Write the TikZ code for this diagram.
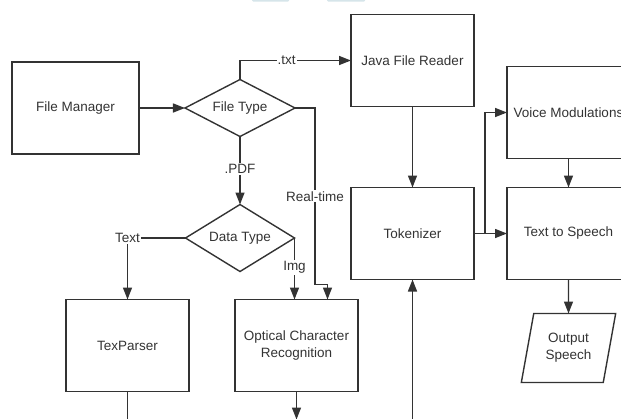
\documentclass[tikz,border=0pt]{standalone}
\usepackage{fontspec}
\setmainfont{Liberation Sans}
\usepackage{xcolor}
\usepackage{tikz}
\usetikzlibrary{shapes.geometric, positioning, arrows.meta}
\definecolor{ink}{RGB}{51,51,51}
\definecolor{tab}{RGB}{214,229,234}
\tikzstyle{process} = [rectangle, minimum width=123pt, minimum height=92pt, text centered, align=center, draw=ink, line width=1.4pt, outer sep=0pt]
\tikzstyle{decision} = [diamond, aspect=2, minimum width=110pt, minimum height=57pt, inner sep=0pt, text centered, draw=ink, line width=1.4pt, outer sep=0pt]
\tikzstyle{io} = [trapezium, trapezium left angle=75, trapezium right angle=105, trapezium stretches=true, minimum width=95pt, minimum height=69pt, inner sep=2pt, text centered, align=center, draw=ink, line width=1.4pt, outer sep=0pt]
\tikzstyle{arrow} = [draw=ink, line width=1.4pt, -{Triangle[length=12pt, width=9pt]}]
\tikzstyle{line} = [draw=ink, line width=1.4pt]
\tikzstyle{lbl} = [fill=white, inner sep=1pt, text=ink]

\begin{document}
\begin{tikzpicture}[x=1pt, y=-1pt, text=ink, font=\fontsize{13.5}{17}\selectfont]
		\useasboundingbox (0,0) rectangle (621,418);
		\clip (0,0) rectangle (621,418);
		\fill[tab, rounded corners=1pt] (252,-3) rectangle (289,1.5);
		\fill[tab, rounded corners=1pt] (327,-3) rectangle (365,1.5);
		\node (File Manager)[process, minimum width=127pt] at (75.5,108) {File Manager};
		\node (File Type)[decision, right = 46pt of File Manager]{File Type};
		\node (Java)[process, right = 56pt of File Type, yshift=47.5pt]{Java File Reader};
		\node (Tokenizer)[process, below = 81pt of Java]{Tokenizer};
		\node (Text to Speech)[process, right = 33pt of Tokenizer]{Text to Speech};
		\node (Voice)[process, above = 29pt of Text to Speech]{Voice Modulations};
		\node (Output)[io, below = 34pt of Text to Speech]{Output\\Speech};
		\node (Data Type)[decision, minimum width=109pt, minimum height=67pt, below = 68pt of File Type]{Data Type};
		\node (TexParser)[process, below = 28pt of Data Type, xshift=-112.5pt]{TexParser};
		\node (OCR)[process, right = 46pt of TexParser]{Optical Character\\Recognition};
		\coordinate (TexParser End) at ([yshift=-40pt]TexParser.south);
		\coordinate (OCR End) at ([yshift=-28pt]OCR.south);
		\coordinate (Tokenizer Start) at ([yshift=-160pt]Tokenizer.south);
		\draw [arrow] (File Manager) -- (File Type);
		\draw [arrow] (File Type.north) |- node[lbl, pos=0.71]{.txt} (Java.west);
		\draw [arrow] (File Type.south) -- node[lbl, pos=0.48]{.PDF} (Data Type.north);
		\draw [arrow] (File Type.east) -- ++(20,0) |- node[lbl, pos=0.25]{Real-time} ([xshift=31pt, yshift=15pt]OCR.north) -- ([xshift=31pt]OCR.north);
		\draw [arrow] (Data Type.west) -| node[lbl, pos=0.5]{Text} (TexParser.north);
		\draw [arrow] (Data Type.east) -- node[lbl, pos=0.48]{Img} (Data Type.east |- OCR.north);
		\draw [arrow] (Java) -- (Tokenizer);
		\draw [arrow] (Tokenizer) -- (Text to Speech);
		\draw [arrow] (Tokenizer.east) -- ++(11,0) |- (Voice.west);
		\draw [arrow] (Voice) -- (Text to Speech);
		\draw [arrow] (Text to Speech) -- (Output);
		\draw [line] (TexParser) -- (TexParser End);
		\draw [arrow] (OCR) -- (OCR End);
		\draw [arrow] (Tokenizer Start) -- (Tokenizer);
	\end{tikzpicture}
\end{document}
